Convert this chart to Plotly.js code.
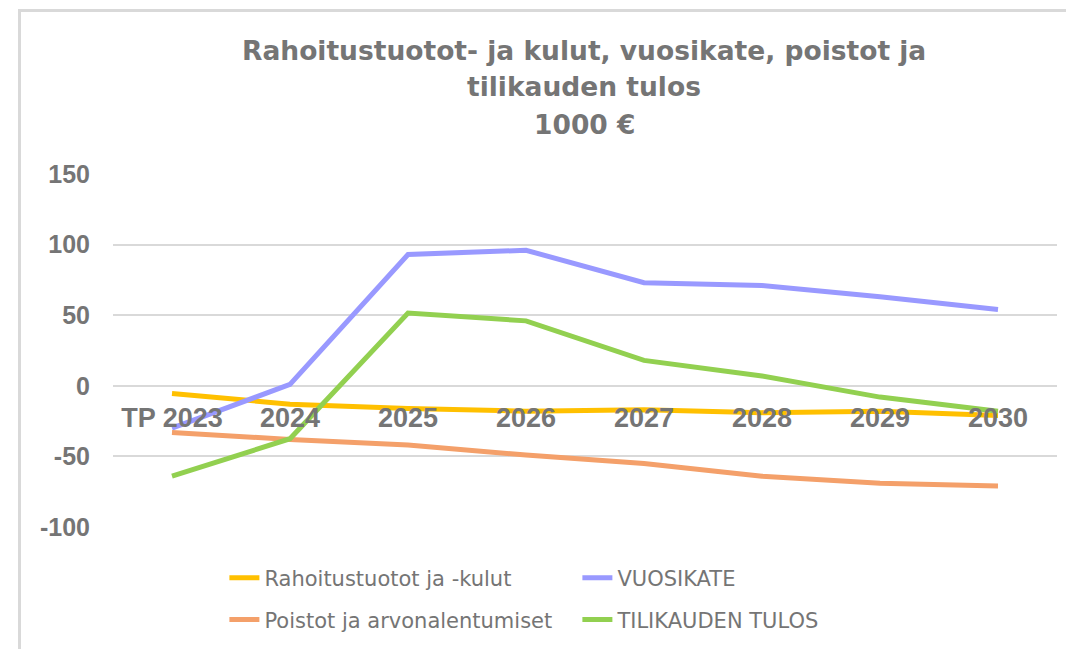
<!DOCTYPE html>
<html><head><meta charset="utf-8">
<script src="https://cdn.plot.ly/plotly-3.0.1.min.js"></script>
<style>
html,body{margin:0;padding:0;background:#fff;}
#wrap{position:relative;width:1066px;height:649px;overflow:hidden;}
#chart{position:absolute;left:0;top:0;width:1066px;height:649px;}
#frame{position:absolute;left:18px;top:9px;width:1100px;height:700px;border-left:3px solid #d9d9d9;border-top:3px solid #d9d9d9;pointer-events:none;}
</style></head>
<body><div id="wrap"><div id="chart"></div><div id="frame"></div></div>
<script>
const categories = ["TP 2023","2024","2025","2026","2027","2028","2029","2030"];
const rahoitus = [-5.5,-13,-16,-18,-17,-19,-18,-21];
const vuosikate = [-30,1,93,96,73,71,63,54];
const poistot = [-33,-38,-42,-49,-55,-64,-69,-71];
const tulos = [-64,-37.5,51.5,46,18,7,-8,-18];
const seriesNames = ["Rahoitustuotot ja -kulut","VUOSIKATE","Poistot ja arvonalentumiset","TILIKAUDEN TULOS"];
const colors = ["#FFC000","#9999FF","#F4A06A","#92D050"];
const values = [rahoitus, vuosikate, poistot, tulos];
const yTicks = [-100,-50,0,50,100,150];
const yTickText = ["-100","-50","0","50","100","150"];
const titleLines = ["Rahoitustuotot- ja kulut, vuosikate, poistot ja","tilikauden tulos","1000 €"];

const legendFor = ["legend","legend","legend2","legend2"];
const traces = values.map((v,i)=>({
  x: categories, y: v, type:'scatter', mode:'lines', name: seriesNames[i],
  line:{color:colors[i], width:5}, legend: legendFor[i]
}));
const font = "Liberation Sans, Arial, sans-serif";
const wide = "DejaVu Sans, Verdana, sans-serif";
const titleY = [1.351, 1.2465, 1.1416];
const annotations = titleLines.map((t,i)=>({
  text:"<b>"+t+"</b>", xref:'paper', yref:'paper', x:0.499, y:titleY[i], xanchor:'center', yanchor:'middle',
  showarrow:false, font:{family:wide, size:26.5, color:"#757575"}
}));
const legendBase = {orientation:'h', x:0.118, xanchor:'left', yanchor:'middle', entrywidth:308, entrywidthmode:'pixels',
    font:{family:wide, size:21, color:"#757575"}, bgcolor:'rgba(0,0,0,0)'};
const layout = {
  width:1066, height:649,
  margin:{l:113, r:9, t:174, b:122},
  paper_bgcolor:'rgba(0,0,0,0)', plot_bgcolor:'rgba(0,0,0,0)',
  annotations: annotations,
  xaxis:{type:'category', range:[-0.5,7.5], anchor:'free', position:0.363, showgrid:false, zeroline:false, showline:false,
    ticks:'', tickfont:{family:font, size:27, color:"#757575", weight:'bold'}},
  yaxis:{range:[-100,150], tickvals:yTicks, ticktext:yTickText, showgrid:true, gridcolor:"#d9d9d9", gridwidth:2,
    zeroline:false, showline:false, ticks:'', ticklabelstandoff:22,
    tickfont:{family:font, size:25, color:"#757575", weight:'bold'}},
  showlegend:true,
  legend: Object.assign({}, legendBase, {y:-0.1445}),
  legend2: Object.assign({}, legendBase, {y:-0.263})
};
Plotly.newPlot('chart', traces, layout, {displayModeBar:false, staticPlot:true});
</script></body></html>
